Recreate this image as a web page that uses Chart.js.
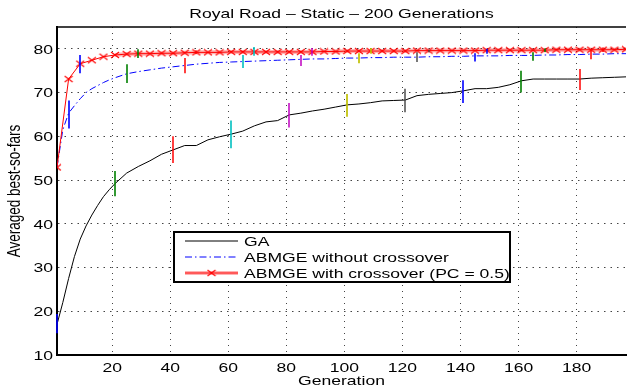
<!DOCTYPE html>
<html><head><meta charset="utf-8">
<script src="https://cdn.jsdelivr.net/npm/chart.js@4"></script>
<style>html,body{margin:0;padding:0;background:#fff}</style>
</head><body>
<canvas id="c" width="631" height="390"></canvas>
<script>
// ---- data ----
const titleText = 'Royal Road \u2013 Static \u2013 200 Generations';
const xLabel = 'Generation';
const yLabel = 'Averaged best-so-fars';
const xTicks = [20, 40, 60, 80, 100, 120, 140, 160, 180];
const yTicks = [10, 20, 30, 40, 50, 60, 70, 80];

const genGA = [1,3,5,7,9,11,13,15,17,19,21,25,29,33,37,41,45,49,53,57,61,65,69,73,77,81,85,89,93,97,101,105,109,113,117,121,125,129,133,137,141,145,149,153,157,161,165,169,173,177,181,185,189,193,197];
const gaVals = [17,22,27.5,32.5,36.5,39.5,42,44.2,46.2,47.8,49.2,51.6,53.1,54.4,55.9,56.9,57.9,57.9,59.2,59.9,60.5,61.2,62.4,63.3,63.6,64.9,65.3,65.8,66.2,66.7,67.2,67.4,67.7,68.1,68.2,68.3,69.3,69.6,69.8,70.0,70.4,70.9,70.9,71.2,71.8,72.7,73.1,73.1,73.1,73.1,73.1,73.3,73.4,73.5,73.6];

const genNo = [1,3,5,7,9,11,13,15,17,19,21,25,29,33,37,41,45,49,53,57,61,65,69,73,77,81,85,89,93,97,101,105,109,113,117,121,125,129,133,137,141,145,149,153,157,161,165,169,173,177,181,185,189,193,197];
const noVals = [52.9,61.5,65.3,67.0,68.6,70.0,70.9,71.6,72.3,72.9,73.4,74.3,74.8,75.2,75.6,75.9,76.2,76.5,76.7,76.9,77.0,77.1,77.2,77.3,77.4,77.5,77.6,77.7,77.7,77.8,77.9,77.9,78.0,78.0,78.1,78.1,78.1,78.2,78.2,78.3,78.3,78.4,78.4,78.4,78.5,78.5,78.5,78.6,78.6,78.7,78.7,78.8,78.8,78.9,78.9];

const genWith = [1,5,9,13,17,21,25,29,33,37,41,45,49,53,57,61,65,69,73,77,81,85,89,93,97,101,105,109,113,117,121,125,129,133,137,141,145,149,153,157,161,165,169,173,177,181,185,189,193,197];
const withVals = [52.9,73.1,76.6,77.4,78.2,78.6,78.8,78.9,78.9,79.0,79.0,79.1,79.2,79.2,79.2,79.3,79.3,79.3,79.3,79.3,79.3,79.3,79.3,79.4,79.4,79.5,79.5,79.5,79.5,79.5,79.5,79.6,79.6,79.6,79.6,79.6,79.6,79.7,79.7,79.7,79.7,79.7,79.7,79.8,79.8,79.8,79.8,79.8,79.8,79.9];

// error bars (generation, low, high)
const errGAx = [1,21,41,61,81,101,121,141,161,181];
const errGAlo = [15.0,46.3,53.9,57.3,62.0,64.5,65.5,67.6,70.0,70.6];
const errGAhi = [19.4,52.1,60.0,63.6,67.6,69.7,70.9,72.8,75.0,75.4];
const errNoX = [5,25,45,65,85,105,125,145,165,185];
const errNoLo = [61.8,72.2,74.4,75.6,76.1,76.7,77.0,77.1,77.3,77.6];
const errNoHi = [68.2,76.5,77.9,78.6,78.6,79.0,79.2,79.0,79.2,79.8];
const errWithX = [9,29,49,69,89,109,129,149,169,189];
const errWithLo = [74.4,77.9,78.8,78.4,78.4,78.9,79.2,78.9,79.3,79.3];
const errWithHi = [78.6,79.9,79.6,80.4,80.2,80.2,79.8,80.0,80.1,80.3];
const barColors = ['rgba(0,0,255,0.8)','rgba(0,128,0,0.8)','rgba(255,0,0,0.75)','rgba(0,191,191,0.8)','rgba(191,0,191,0.75)','rgba(191,191,0,0.85)','rgba(64,64,64,0.7)'];

// ---- styling helpers ----
const FONT = '13.5px "Liberation Sans", Arial, Helvetica, sans-serif';
const SX = 1.3;
function sText(ctx, t, x, y, align, base) {
  ctx.save(); ctx.translate(x, y); ctx.scale(SX, 1);
  ctx.font = FONT; ctx.fillStyle = '#000'; ctx.textAlign = align; ctx.textBaseline = base;
  ctx.fillText(t, 0, 0); ctx.restore();
}
const xm = document.createElement('canvas'); xm.width = 10; xm.height = 8;
(function(){ const c = xm.getContext('2d'); c.strokeStyle = '#ff0000'; c.lineWidth = 1.1;
  c.beginPath(); c.moveTo(1,1); c.lineTo(9,7); c.moveTo(9,1); c.lineTo(1,7); c.stroke(); })();

const pts = (xs, ys) => xs.map((g, i) => ({x: g, y: ys[i]}));
const bandPts = pts(genWith, withVals).filter(p => p.x >= 21);

const deco = {
  id: 'deco',
  afterDatasetsDraw(chart) {
    const {ctx, scales: {x, y}} = chart;
    const bars = [[errGAx, errGAlo, errGAhi], [errNoX, errNoLo, errNoHi], [errWithX, errWithLo, errWithHi]];
    ctx.save(); ctx.lineWidth = 2;
    bars.forEach(([xs, lo, hi]) => {
      xs.forEach((g, i) => {
        const px = Math.round(x.getPixelForValue(g));
        ctx.strokeStyle = barColors[i % barColors.length];
        ctx.beginPath(); ctx.moveTo(px, y.getPixelForValue(lo[i])); ctx.lineTo(px, y.getPixelForValue(hi[i])); ctx.stroke();
      });
    });
    ctx.restore();
  },
  afterDraw(chart) {
    const {ctx, chartArea: a, scales: {x, y}} = chart;
    ctx.save(); ctx.strokeStyle = '#000'; ctx.lineWidth = 1.5;
    ctx.beginPath(); ctx.moveTo(a.left, a.top); ctx.lineTo(a.right, a.top); ctx.stroke(); ctx.restore();
    x.ticks.forEach(t => sText(ctx, String(t.value), x.getPixelForValue(t.value), 372, 'center', 'alphabetic'));
    y.ticks.forEach(t => sText(ctx, String(t.value), 53, y.getPixelForValue(t.value) + 4.8, 'right', 'alphabetic'));
    sText(ctx, titleText, (a.left + a.right) / 2, 18, 'center', 'alphabetic');
    sText(ctx, xLabel, (a.left + a.right) / 2, 385, 'center', 'alphabetic');
    ctx.save(); ctx.translate(15, 191); ctx.scale(SX, 1); ctx.rotate(-Math.PI / 2);
    ctx.font = FONT; ctx.fillStyle = '#000'; ctx.textAlign = 'center'; ctx.textBaseline = 'middle';
    ctx.fillText(yLabel, 0, 0); ctx.restore();
    const ds = chart.data.datasets;
    const items = [ds[1], ds[2], ds[3]];
    ctx.save();
    ctx.fillStyle = '#fff'; ctx.fillRect(174, 232, 336, 50);
    ctx.strokeStyle = '#000'; ctx.lineWidth = 2; ctx.strokeRect(174, 232, 336, 50);
    const rows = [241, 257, 273];
    items.forEach((d, i) => {
      const yy = rows[i];
      if (i === 2) {
        ctx.strokeStyle = ds[0].borderColor; ctx.lineWidth = ds[0].borderWidth; ctx.setLineDash([]);
        ctx.beginPath(); ctx.moveTo(185, yy); ctx.lineTo(238, yy); ctx.stroke();
      }
      ctx.strokeStyle = d.borderColor; ctx.lineWidth = d.borderWidth; ctx.setLineDash(d.borderDash || []);
      ctx.beginPath(); ctx.moveTo(185, yy); ctx.lineTo(238, yy); ctx.stroke();
      ctx.setLineDash([]);
      if (i === 2) ctx.drawImage(xm, 211.5 - xm.width / 2, yy - xm.height / 2);
      sText(ctx, d.label, 244, yy + 5, 'left', 'alphabetic');
    });
    ctx.restore();
  }
};

new Chart(document.getElementById('c'), {
  type: 'line',
  data: { datasets: [
    { label: 'band', data: bandPts, borderColor: 'rgba(255,0,0,0.3)', borderWidth: 4, pointRadius: 0, order: 3 },
    { label: 'GA', data: pts(genGA, gaVals), borderColor: '#000000', borderWidth: 1, pointRadius: 0, order: 2 },
    { label: 'ABMGE without crossover', data: pts(genNo, noVals), borderColor: '#0000ff', borderWidth: 1, borderDash: [7, 3, 1.5, 3], pointRadius: 0, order: 1 },
    { label: 'ABMGE with crossover (PC = 0.5)', data: pts(genWith, withVals), borderColor: '#ff0000', borderWidth: 1, pointStyle: xm, pointRadius: 4, order: 0 }
  ]},
  options: {
    responsive: false, animation: false, devicePixelRatio: 1,
    layout: { padding: { top: 27, right: 0, left: 0, bottom: 0 } },
    elements: { line: { tension: 0, fill: false } },
    plugins: { legend: { display: false }, tooltip: { enabled: false }, title: { display: false } },
    scales: {
      x: { type: 'linear', min: 1, max: 197,
        afterBuildTicks: s => { s.ticks = xTicks.map(v => ({ value: v })); },
        afterFit: s => { s.height = 35; },
        ticks: { display: false },
        grid: { color: '#444', lineWidth: 1, drawTicks: false },
        border: { display: true, color: '#000', width: 2, dash: [1, 5] } },
      y: { type: 'linear', min: 10, max: 85,
        afterBuildTicks: s => { s.ticks = yTicks.map(v => ({ value: v })); },
        afterFit: s => { s.width = 57; },
        ticks: { display: false },
        grid: { color: '#444', lineWidth: 1, drawTicks: false },
        border: { display: true, color: '#000', width: 2, dash: [1.5, 5] } }
    }
  },
  plugins: [deco]
});
</script>
</body></html>
